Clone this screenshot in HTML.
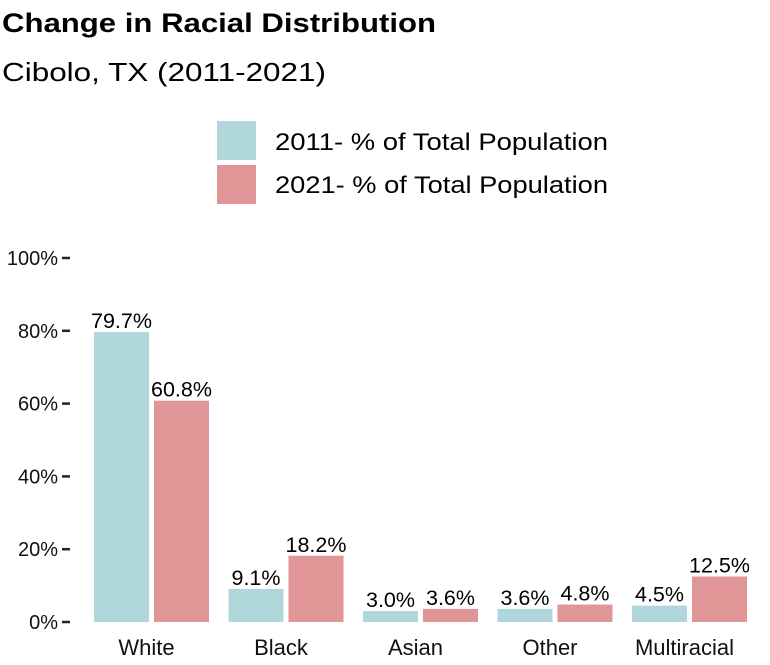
<!DOCTYPE html>
<html><head><meta charset="utf-8"><style>
body{margin:0;background:#fff;font-family:"Liberation Sans",sans-serif}
svg text{font-family:"Liberation Sans",sans-serif}
</style></head><body>
<svg width="770" height="660" xmlns="http://www.w3.org/2000/svg">
<text x="2" y="32" font-size="27" font-weight="bold" fill="#000" textLength="434" lengthAdjust="spacingAndGlyphs">Change in Racial Distribution</text>
<text x="2" y="81" font-size="26" fill="#000" textLength="324" lengthAdjust="spacingAndGlyphs">Cibolo, TX (2011-2021)</text>
<g>
<rect x="217" y="121" width="39" height="39" fill="#b0d8dc"/>
<text x="275" y="150" font-size="24" textLength="333" lengthAdjust="spacingAndGlyphs">2011- % of Total Population</text>
<rect x="217" y="165" width="39" height="39" fill="#e09596"/>
<text x="275" y="193" font-size="24" textLength="333" lengthAdjust="spacingAndGlyphs">2021- % of Total Population</text>
</g>
<g id="axis"></g>
<g id="bars"></g>
</svg>
<script>
const categories=["White","Black","Asian","Other","Multiracial"];
const values2011=[79.7,9.1,3.0,3.6,4.5];
const values2021=[60.8,18.2,3.6,4.8,12.5];
const ticks=[0,20,40,60,80,100];
const tickLabels=["0%","20%","40%","60%","80%","100%"];
const NS="http://www.w3.org/2000/svg";
const y=v=>622-v*3.64;
const xc=i=>151.5+i*134.5;
function mk(t,a,p){const e=document.createElementNS(NS,t);for(const k in a)e.setAttribute(k,a[k]);p.appendChild(e);return e;}
const ax=document.getElementById('axis'),bg=document.getElementById('bars');
ticks.forEach((t,i)=>{
 const l=mk('line',{x1:62,x2:70,y1:y(t),y2:y(t),stroke:'#222','stroke-width':2.5},ax);
 
 
 const tx=mk('text',{x:58,y:y(t)+7,'font-size':20,'text-anchor':'end',fill:'#111'},ax);
 tx.textContent=tickLabels[i];
 
 
});
categories.forEach((c,i)=>{
 const cx=xc(i);
 [[values2011[i],'#b0d8dc',cx-57.5],[values2021[i],'#e09596',cx+2.5]].forEach(([v,col,x0],j)=>{
  const r=mk('rect',{x:x0,y:y(v),width:55,height:622-y(v),fill:col},bg);
  
  
  const t=mk('text',{x:x0+27.5,y:y(v)-4,'font-size':21.5,'text-anchor':'middle'},bg);
  t.textContent=v.toFixed(1)+'%';
  
  
 });
 const t=mk('text',{x:cx-5,y:655,'font-size':22,'text-anchor':'middle',fill:'#111'},bg);
 t.textContent=c;
 
 
});
</script>
</body></html>
